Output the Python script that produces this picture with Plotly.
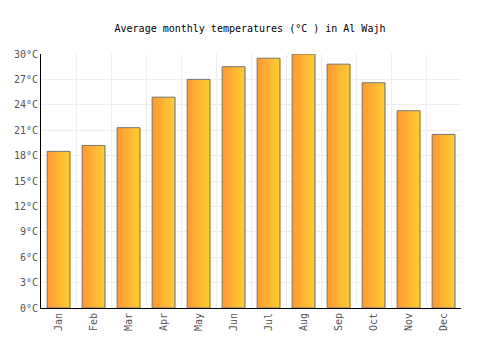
import plotly.graph_objects as go

months = ["Jan", "Feb", "Mar", "Apr", "May", "Jun", "Jul", "Aug", "Sep", "Oct", "Nov", "Dec"]
temps = [18.5, 19.2, 21.3, 24.9, 27.0, 28.5, 29.5, 30.0, 28.8, 26.6, 23.3, 20.5]
y_ticks = [0, 3, 6, 9, 12, 15, 18, 21, 24, 27, 30]
y_labels = [f"{v}°C" for v in y_ticks]

x = list(range(len(months)))
bar_w = 0.65
n_strips = 16
c0 = (255, 153, 51)
c1 = (255, 204, 51)

fig = go.Figure()
sw = bar_w / n_strips
for k in range(n_strips):
    t = k / (n_strips - 1)
    col = tuple(round(a + (b - a) * t) for a, b in zip(c0, c1))
    fig.add_trace(go.Bar(
        x=x, y=temps, width=sw * 1.6, offset=-bar_w / 2 + k * sw,
        marker=dict(color="rgb(%d,%d,%d)" % col, line=dict(width=0)),
        hoverinfo="skip", showlegend=False,
    ))
fig.add_trace(go.Bar(
    x=x, y=temps, width=bar_w,
    marker=dict(color="rgba(0,0,0,0)", line=dict(color="#777777", width=1)),
    showlegend=False,
))

font = "DejaVu Sans Mono, monospace"
fig.update_layout(
    width=500, height=350,
    barmode="overlay",
    margin=dict(l=41, r=39, t=54, b=42),
    paper_bgcolor="white", plot_bgcolor="white",
    title=dict(text="Average monthly temperatures (°C ) in Al Wajh", x=0.5, xanchor="center",
               y=1 - 28 / 350, yanchor="middle", font=dict(family=font, size=10, color="#000")),
    font=dict(family=font, size=10, color="#555"),
    xaxis=dict(
        range=[-0.5, 11.5], tickvals=x, ticktext=months, tickangle=-90,
        showgrid=False, showline=True, linecolor="#000", linewidth=1,
        ticks="", zeroline=False,
        minor=dict(tickvals=[i - 0.5 for i in range(13)], showgrid=True, gridcolor="#eeeeee", ticks=""),
        tickfont=dict(family=font, size=10, color="#555"),
    ),
    yaxis=dict(
        range=[0, 30], tickvals=y_ticks, ticktext=y_labels,
        showgrid=True, gridcolor="#eeeeee", zeroline=False,
        showline=True, linecolor="#000", linewidth=1, ticks="",
        tickfont=dict(family=font, size=10, color="#555"),
    ),
)

fig.write_html("out.html")
